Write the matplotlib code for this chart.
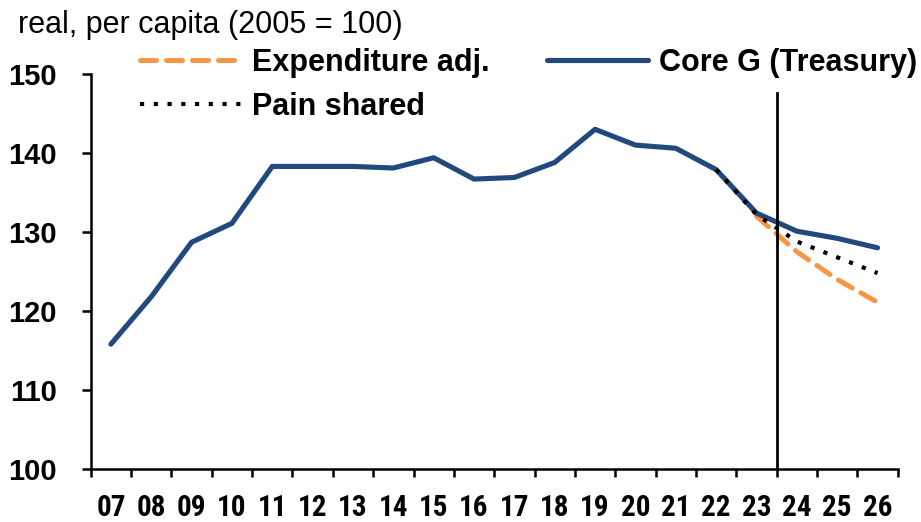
import numpy as np
import matplotlib
matplotlib.use('Agg')
import matplotlib.pyplot as plt

# data
years = ['07', '08', '09', '10', '11', '12', '13', '14', '15', '16',
         '17', '18', '19', '20', '21', '22', '23', '24', '25', '26']
core_g = [115.8, 121.8, 128.7, 131.1, 138.3, 138.3, 138.3, 138.1, 139.4, 136.7,
          136.9, 138.8, 143.0, 141.0, 140.6, 137.9, 132.4, 130.1, 129.2, 128.0]
pain_years = ['22', '23', '24', '25', '26']
pain_shared = [137.9, 132.2, 128.8, 126.8, 124.8]
exp_years = ['23', '24', '25', '26']
exp_adj = [132.0, 127.5, 124.0, 121.1]
split_after = '23'

navy = '#21497e'
orange = '#f79646'

plt.rcParams['font.family'] = ['Liberation Sans', 'DejaVu Sans']

fig = plt.figure(figsize=(9.21, 5.22), dpi=100)
ax = fig.add_axes([90.7 / 921, 53 / 522, (897.7 - 90.7) / 921, (469 - 74) / 522])

x = np.arange(len(years))
idx = {y: i for i, y in enumerate(years)}

l_core, = ax.plot(x, core_g, color=navy, lw=3.7, solid_capstyle='round',
                  solid_joinstyle='round', zorder=3)
l_exp, = ax.plot([idx[y] for y in exp_years], exp_adj, color=orange, lw=3.6,
                 linestyle=(0, (3.2, 2.0)), dash_capstyle='round', zorder=2)
l_pain, = ax.plot([idx[y] for y in pain_years], pain_shared, color='black', lw=3.0,
                  linestyle=(0, (1.0, 2.3)), dash_capstyle='butt', zorder=4)

# forecast divider
ax.plot([idx[split_after] + 0.5] * 2, [100, 147.6], color='black', lw=2.0, zorder=5)

ax.set_xlim(-0.5, len(years) - 0.5)
ax.set_ylim(100, 150)
ax.set_yticks(np.arange(100, 151, 10))

# ticks between categories, labels in the middle
ax.set_xticks(np.arange(-0.5, len(years), 1.0))
ax.set_xticklabels([])
ax.set_xticks(x, minor=True)
ax.set_xticklabels(years, minor=True, family='Roboto Condensed',
                   fontweight='bold', fontsize=21)
ax.tick_params(axis='x', which='major', direction='out', length=6, width=1.8)
ax.tick_params(axis='x', which='minor', length=0, pad=18)
ax.tick_params(axis='y', direction='out', length=6.5, width=1.8, pad=18,
               labelsize=21)
for lab in ax.get_yticklabels():
    lab.set_fontweight('bold')

for s in ['top', 'right']:
    ax.spines[s].set_visible(False)
for s in ['left', 'bottom']:
    ax.spines[s].set_linewidth(1.8)

fig.text(18 / 921, 1 - 33 / 522, 'real, per capita (2005 = 100)', fontsize=22,
         va='baseline', ha='left')

fig.legend([l_exp, l_pain, l_core], ['Expenditure adj.', 'Pain shared', 'Core G (Treasury)'],
           ncol=2, loc='upper left', bbox_to_anchor=(140 / 921, 1 - 48 / 522),
           frameon=False, borderpad=0, borderaxespad=0, handlelength=3.3,
           handletextpad=0.35, columnspacing=1.9, labelspacing=0.45,
           prop={'size': 22, 'weight': 'bold'})

fig.savefig('out.png', dpi=100)
